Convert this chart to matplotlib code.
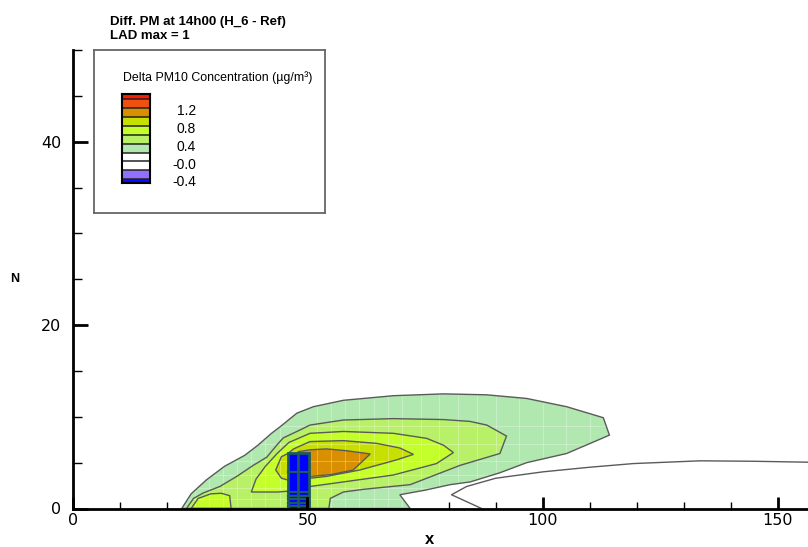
import matplotlib.pyplot as plt
from matplotlib.patches import Rectangle, Polygon
from matplotlib.ticker import MultipleLocator

plt.rcParams['font.family'] = ['DejaVu Sans']

# contour levels and band colours (below first level ... above last level)
levels = [-0.4, -0.2, 0.0, 0.2, 0.4, 0.6, 0.8, 1.0, 1.2, 1.4]
band_colors = ['#0a0aff', '#9070ff', '#ffffff', '#ffffff', '#b0e8b0', '#b8f068',
               '#c4ff2c', '#c8e000', '#d99000', '#f05010', '#ff1a00']
legend_labels = [1.2, 0.8, 0.4, -0.0, -0.4]

# contour outlines (x, N)
c02_x = [23.2, 25.2, 28.4, 32.3, 36.6, 39.4, 42.3, 44.1, 47.7, 51.2, 57.6, 68.2, 78.9, 88.0,
         96.6, 105.1, 112.9, 114.2, 105.1, 96.6, 90.9, 84.6, 80.3, 75.0, 69.6, 71.8]
c02_y = [0.0, 1.6, 3.1, 4.6, 5.8, 6.9, 8.2, 8.9, 10.4, 11.1, 11.8, 12.3, 12.5, 12.4,
         12.0, 11.1, 9.9, 8.0, 6.0, 5.0, 3.9, 2.9, 2.6, 2.0, 1.5, 0.0]

c04_x = [24.2, 25.7, 27.8, 31.3, 34.9, 38.4, 41.3, 43.4, 44.8, 47.7, 50.5, 57.6, 68.2, 78.9,
         84.5, 88.1, 92.3, 90.9, 82.4, 71.8, 62.0, 57.6, 54.8, 54.5]
c04_y = [0.0, 1.1, 1.7, 2.4, 3.5, 4.7, 5.6, 6.9, 7.7, 8.4, 9.1, 9.65, 9.8, 9.7,
         9.5, 9.1, 7.9, 6.0, 4.7, 2.6, 2.1, 1.8, 1.1, 0.0]

c06_x = [38.0, 39.0, 41.0, 43.5, 46.0, 50.5, 57.6, 68.2, 75.3, 78.9, 81.0, 77.4, 68.2, 57.6,
         50.5, 46.0, 43.7]
c06_y = [1.8, 3.2, 4.6, 6.0, 7.2, 8.2, 8.4, 8.2, 7.65, 6.9, 6.1, 4.9, 3.65, 2.9,
         2.4, 1.9, 1.8]
c06b_x = [25.2, 26.7, 29.4, 31.6, 33.4, 33.7]
c06b_y = [0.0, 1.1, 1.6, 1.66, 1.4, 0.0]

c08_x = [45.8, 44.4, 43.2, 44.4, 45.8, 47.0, 50.5, 57.6, 64.7, 69.6, 72.5, 68.9, 61.1, 54.0,
         50.5, 47.0]
c08_y = [3.1, 3.3, 4.2, 5.65, 6.0, 6.5, 7.3, 7.4, 7.1, 6.6, 5.9, 5.3, 4.2, 3.5,
         3.3, 3.1]

c10_x = [48.0, 48.0, 50.5, 54.0, 58.3, 63.3, 59.7, 55.0, 50.5, 48.0]
c10_y = [4.0, 6.2, 6.4, 6.5, 6.3, 5.95, 4.2, 3.7, 3.5, 3.6]

c00_x = [87.0, 80.6, 83.8, 90.0, 100.1, 110.0, 119.3, 133.5, 145.0, 156.4]
c00_y = [0.0, 1.5, 2.4, 3.3, 4.0, 4.5, 4.9, 5.2, 5.15, 5.05]

# faint mesh lines seen through the fill
mesh_x = [26, 29, 32, 35, 38, 41, 44, 52, 55, 58, 61, 64, 67, 70, 74, 78, 82, 86, 90, 95, 100, 105, 110]
mesh_y = [1.0, 2.2, 3.6, 5.2, 7.0, 9.0]

# building
bld_x = [45.8, 50.2]
bld_top = 6.1
bld_mid_x = 48.0
bld_rows = [4.0, 1.8, 1.4, 1.0, 0.65, 0.3]

W, H = 808, 547
fig = plt.figure(figsize=(W / 100, H / 100), dpi=100)
ax = fig.add_axes([72.7 / W, (H - 508.5) / H, 1 - 72.7 / W, 458.5 / H])

edge = '#5a5a5a'
fills = [(c02_x, c02_y, band_colors[4]), (c04_x, c04_y, band_colors[5]),
         (c06_x, c06_y, band_colors[6]), (c06b_x, c06b_y, band_colors[6]),
         (c08_x, c08_y, band_colors[7]), (c10_x, c10_y, band_colors[8])]
for xs, ys, col in fills:
    ax.fill(xs, ys, facecolor=col, edgecolor='none', zorder=2)

clip = Polygon(list(zip(c02_x, c02_y)), closed=True, transform=ax.transData)
for mx in mesh_x:
    ln, = ax.plot([mx, mx], [0, 13], color='white', lw=0.7, alpha=0.3, zorder=2.5)
    ln.set_clip_path(clip)
for my in mesh_y:
    ln, = ax.plot([20, 116], [my, my], color='white', lw=0.7, alpha=0.3, zorder=2.5)
    ln.set_clip_path(clip)

for xs, ys, col in fills:
    ax.fill(xs, ys, facecolor='none', edgecolor=edge, lw=1.0, zorder=3)
ax.plot(c00_x, c00_y, color=edge, lw=1.0, zorder=3)

ax.add_patch(Rectangle((bld_x[0], 0), bld_x[1] - bld_x[0], bld_top,
                       facecolor='#0000ff', edgecolor='#1d5a5e', lw=2, zorder=4))
ax.plot([bld_mid_x, bld_mid_x], [0, bld_top], color='#1d5a5e', lw=2, zorder=5)
for r in bld_rows:
    ax.plot(bld_x, [r, r], color='#1d5a5e', lw=1.6, zorder=5)
ax.add_patch(Rectangle((49.7, 0), 0.5, 1.3, facecolor='black', zorder=6))

ax.set_xlim(0, (W - 72.7) / 4.7)
ax.set_ylim(0, 50)
ax.xaxis.set_major_locator(MultipleLocator(50))
ax.xaxis.set_minor_locator(MultipleLocator(10))
ax.yaxis.set_major_locator(MultipleLocator(20))
ax.yaxis.set_minor_locator(MultipleLocator(5))
for s in ['top', 'right']:
    ax.spines[s].set_visible(False)
for s in ['left', 'bottom']:
    ax.spines[s].set_linewidth(2)
    ax.spines[s].set_zorder(7)
ax.tick_params(axis='x', which='major', direction='in', length=8.5, width=2, labelsize=11.5, pad=3)
ax.tick_params(axis='x', which='minor', direction='in', length=5, width=1)
ax.tick_params(axis='y', which='major', direction='in', length=11, width=2, labelsize=11.5, pad=8)
ax.tick_params(axis='y', which='minor', direction='in', length=6.5, width=1)

fig.text(430 / W, 1 - 539 / H, 'x', fontsize=12, fontweight='bold', ha='center', va='center',
         family='Liberation Sans')
fig.text(15 / W, 1 - 279 / H, 'N', fontsize=9, fontweight='bold', ha='center', va='center',
         family='Liberation Sans')
fig.text(110 / W, 1 - 22 / H, 'Diff. PM at 14h00 (H_6 - Ref)', fontsize=9.5, fontweight='bold',
         va='center', family='Liberation Sans')
fig.text(110 / W, 1 - 36 / H, 'LAD max = 1', fontsize=9.5, fontweight='bold', va='center',
         family='Liberation Sans')

# legend box
lg = fig.add_axes([94 / W, (H - 213) / H, (325 - 94) / W, (213 - 50.5) / H])
lg.set_xticks([])
lg.set_yticks([])
for s in lg.spines.values():
    s.set_edgecolor('#666666')
    s.set_linewidth(1.3)
fig.text(122.7 / W, 1 - 78 / H, 'Delta PM10 Concentration (µg/m³)', fontsize=8.9, va='center',
         family='Liberation Sans')

cb = fig.add_axes([122.3 / W, (H - 183.3) / H, 28 / W, 89 / H])
edges = [-5] + levels + [5]
for i, col in enumerate(band_colors):
    cb.bar(0.5, edges[i + 1] - edges[i], bottom=edges[i], width=1, color=col)
for lv in levels:
    cb.axhline(lv, color='#222222', lw=1.1)
cb.set_xlim(0, 1)
cb.set_ylim(-0.49, 1.506)
cb.set_xticks([])
cb.set_yticks([])
for s in cb.spines.values():
    s.set_linewidth(1.5)
lab_tr = cb.get_yaxis_transform().__class__(fig.transFigure, cb.transData)
for v in legend_labels:
    cb.text(196 / W, v - 0.07, f'{v:.1f}', transform=lab_tr, fontsize=10, ha='right', va='center',
            family='Liberation Sans')

fig.savefig('out.png', dpi=100)
